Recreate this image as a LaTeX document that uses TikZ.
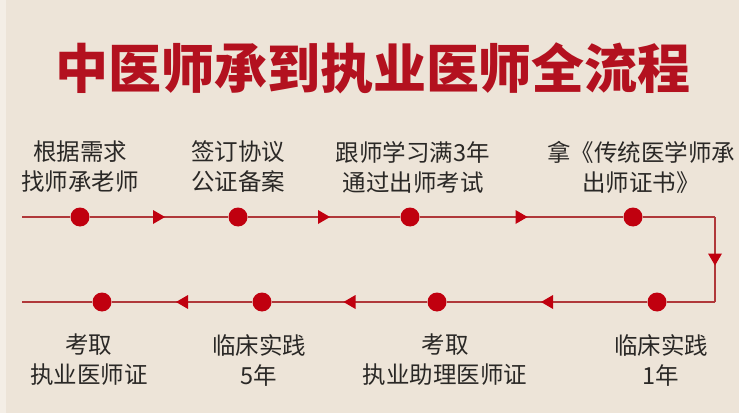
\documentclass[tikz,border=0pt]{standalone}
\usepackage{fontspec}
\setmainfont{Noto Sans CJK SC}
\usetikzlibrary{decorations.markings}
\definecolor{bgbeige}{HTML}{EDE4D8}
\definecolor{edgebeige}{HTML}{F4EEE6}
\definecolor{titlered}{HTML}{B3111F}
\definecolor{dotred}{HTML}{C0000F}
\definecolor{linered}{HTML}{B0383A}
\definecolor{txtgray}{HTML}{2A2826}

\begin{document}
\begin{tikzpicture}[x=1pt,y=1pt,
  dot/.style={circle,fill=dotred,inner sep=0pt,minimum size=19pt},
  lbl/.style={align=center,text=txtgray,font=\fontsize{23.5}{30}\selectfont},
  line/.style={draw=linered,line width=1.3pt},
  flow/.style={line,postaction={decorate},
    decoration={markings,mark=at position 0.5 with
      {\fill[dotred] (6pt,0pt)--(-6pt,7pt)--(-6pt,-7pt)--cycle;}}}]
\fill[bgbeige] (0,0) rectangle (739,413);
\fill[edgebeige] (0,0) rectangle (6,413);
\useasboundingbox (0,0) rectangle (739,413);

\node[text=titlered,font=\fontsize{53}{55}\selectfont\bfseries] (title) at (373,345) {中医师承到执业医师全流程};

% top row, left to right
\coordinate (s) at (22,196);
\node[dot] (d1) at (80,196) {};
\node[dot] (d2) at (238,196) {};
\node[dot] (d3) at (410,196) {};
\node[dot] (d4) at (633,196) {};
\coordinate (c1) at (715,196);
\coordinate (c2) at (715,111);

% bottom row, right to left
\node[dot] (d5) at (657,111) {};
\node[dot] (d6) at (437,111) {};
\node[dot] (d7) at (262,111) {};
\node[dot] (d8) at (102,111) {};
\coordinate (e) at (22,111);

\draw[line] (s) -- (d1);
\draw[flow] (d1) -- (d2);
\draw[flow] (d2) -- (d3);
\draw[flow] (d3) -- (d4);
\draw[line] (d4) -- (c1);
\draw[flow] (c1) -- (c2);
\draw[line] (c2) -- (d5);
\draw[flow] (d5) -- (d6);
\draw[flow] (d6) -- (d7);
\draw[flow] (d7) -- (d8);
\draw[line] (d8) -- (e);

\node[lbl] (t1) at (80,246) {根据需求\\找师承老师};
\node[lbl] (t2) at (238,246) {签订协议\\公证备案};
\node[lbl] (t3) at (413,246) {跟师学习满3年\\通过出师考试};
\node[lbl] (t4) at (641,246) {拿《传统医学师承\\出师证书》};

\node[lbl] (b1) at (89,53) {考取\\执业医师证};
\node[lbl] (b2) at (259,53) {临床实践\\5年};
\node[lbl] (b3) at (445,53) {考取\\执业助理医师证};
\node[lbl] (b4) at (661,53) {临床实践\\1年};
\end{tikzpicture}
\end{document}
